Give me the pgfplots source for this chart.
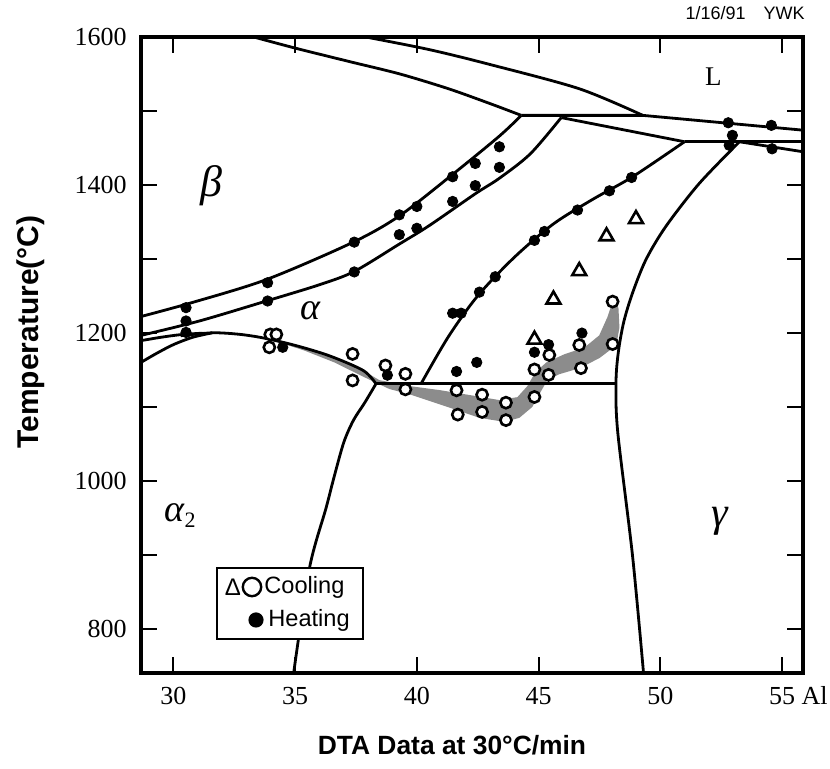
\documentclass[border=0pt]{standalone}
\usepackage{fontspec}
\setmainfont{Liberation Serif}
\newfontfamily\hel{Liberation Sans}
\newfontfamily\dvs{DejaVu Sans}
\usepackage{pgfplots}
\pgfplotsset{compat=1.18}
\begin{document}
\begin{tikzpicture}
\begin{axis}[
  width=331pt, height=318pt, scale only axis,
  xmin=28.67, xmax=55.86, ymin=740, ymax=1600,
  axis line style={line width=2pt},
  xtick={30,35,...,55},
  ytick={800,900,...,1600},
  yticklabels={800,,1000,,1200,,1400,,1600},
  xtick pos=both, ytick pos=both,
  tick align=inside,
  major tick length=8pt,
  tick style={line width=1pt, black},
  /pgf/number format/assume math mode=true,
  /pgf/number format/1000 sep={},
  tick label style={font=\fontsize{13}{14}\selectfont},
  yticklabel style={inner sep=0pt, xshift=-7pt},
  xticklabel style={inner sep=0pt, yshift=-7pt},
  pl/.style={black, no markers, line width=1.4pt},
]
% shaded DTA cooling band
\addplot[fill=black!45, draw=none] coordinates {
 (34.07,1192.5) (35.17,1181.7) (36.41,1168.3) (37.76,1149.5) (38.46,1136)
 (39.69,1128) (40.92,1122.6) (42.16,1115.9) (43.39,1109) (44.13,1113)
 (44.54,1128) (44.87,1146.8) (45.32,1160) (46.06,1171) (46.88,1180)
 (47.49,1196.5) (47.82,1220.7) (48.03,1241) (48.28,1234) (48.32,1207)
 (48.19,1183) (47.49,1165.6) (46.67,1152) (45.85,1144) (45.36,1136)
 (45.03,1117) (44.74,1099.7) (44.21,1085) (43.59,1079.6) (42.57,1085)
 (41.62,1095.7) (40.64,1106.5) (39.69,1117) (38.87,1124) (37.84,1140)
 (36.61,1160) (35.38,1176) (34.35,1187)} -- cycle;

% liquidus beta
\addplot[pl, smooth, tension=0.5] coordinates {(33.3,1600) (35.0,1585) (37.2,1567) (39.3,1550) (41.3,1530) (43.0,1510) (44.29,1494)};
% upper liquidus
\addplot[pl, smooth, tension=0.5] coordinates {(37.9,1600) (40.5,1583) (42.98,1563) (46.67,1530) (49.28,1494)};
% peritectic horizontal + gamma liquidus
\addplot[pl] coordinates {(44.29,1494) (49.28,1494) (55.86,1474)};
% alpha solidus
\addplot[pl] coordinates {(45.93,1491) (51.0,1458.3)};
% lower horizontal
\addplot[pl] coordinates {(51.0,1458.3) (55.86,1458.3)};
% gamma solidus
\addplot[pl] coordinates {(53.25,1458.3) (55.86,1444.8)};
% beta transus
\addplot[pl, smooth, tension=0.5] coordinates {(28.67,1222) (30.78,1241) (33.82,1272) (37.35,1322) (39.28,1358) (41.5,1415) (43.39,1466) (44.29,1494)};
% (beta+alpha)/alpha
\addplot[pl, smooth, tension=0.5] coordinates {(28.67,1196.5) (31.07,1216) (33.82,1243) (36,1265) (37.43,1283) (39.28,1320) (40.51,1345) (42.40,1388) (43.39,1409) (44.66,1442) (45.93,1491)};
% alpha2 dome
\addplot[pl, smooth, tension=0.5] coordinates {(30.3,1196) (31.6,1200) (32.7,1198) (33.7,1193) (35.0,1183) (36.4,1169) (37.8,1149) (38.32,1131)};
\addplot[pl, smooth, tension=0.5] coordinates {(28.67,1189.4) (29.5,1194) (30.3,1197.5) (31.2,1199.5)};
\addplot[pl, smooth, tension=0.5] coordinates {(28.67,1160) (29.3,1172) (30.0,1184) (30.8,1194) (31.6,1200)};
% alpha2/(alpha2+gamma)
\addplot[pl, smooth, tension=0.5] coordinates {(38.32,1131) (37.85,1105) (37.4,1082) (37.0,1052) (36.6,1005) (36.27,963) (35.59,882) (34.94,740)};
% eutectoid
\addplot[pl] coordinates {(38.32,1131) (48.18,1131)};
% alpha/(alpha+gamma)
\addplot[pl, smooth, tension=0.5] coordinates {(40.17,1131) (41.3,1195) (42.50,1250) (44.0,1302) (45.6,1347) (47.2,1380) (48.86,1411) (50.99,1458.3)};
% gamma boundary
\addplot[pl, smooth, tension=0.5] coordinates {(53.25,1458.3) (51.60,1402) (50.23,1344) (49.41,1299) (48.86,1254) (48.50,1215) (48.28,1175) (48.18,1134) (48.25,1066) (48.86,898) (49.31,740)};

% heating
\addplot[only marks, black, mark=*, mark size=2.6pt] coordinates {
 (30.52,1234) (30.52,1216) (30.52,1200.5) (33.87,1267.7) (33.87,1243) (34.49,1180.4)
 (37.43,1322.6) (37.43,1282.3) (39.28,1359.5) (39.28,1332.7) (40.0,1370.8) (40.0,1341.3)
 (41.47,1411) (41.47,1377.6) (42.40,1429) (42.40,1399) (43.39,1451.5) (43.39,1423.7)
 (41.47,1226.5) (41.82,1226.5) (42.57,1255) (43.22,1275.8) (44.83,1325) (45.24,1337)
 (46.60,1366) (47.91,1392) (48.82,1410) (41.63,1147.7) (42.46,1160) (44.83,1173.7)
 (45.41,1184) (46.78,1199.6) (38.79,1142.7) (52.79,1484) (54.56,1480.5) (52.96,1467)
 (52.83,1453.6) (54.59,1448.8)};
% cooling circles
\addplot[only marks, black, mark=*, mark size=2.8pt, mark options={fill=white, line width=1.3pt}] coordinates {
 (33.98,1197.8) (34.23,1197.8) (33.94,1180.4) (37.36,1171.4) (37.36,1135.6) (38.71,1155.8)
 (39.53,1144.5) (39.53,1123.5) (41.63,1122.2) (41.68,1089.4) (42.68,1116.3) (42.68,1093)
 (43.66,1105.5) (43.66,1081.9) (44.83,1150.4) (44.83,1113.2) (45.44,1170) (45.41,1143.1)
 (46.67,1183.5) (46.74,1152.2) (48.04,1242.2) (48.04,1184.8)};
% cooling triangles
\addplot[only marks, black, mark=triangle*, mark size=4pt, mark options={fill=white, line width=1.3pt}] coordinates {
 (49.0,1353.8) (47.79,1330.5) (46.67,1283.5) (45.61,1245) (44.83,1190.7)};

\node at (axis cs:31.56,1399) {\fontsize{22}{22}\selectfont\itshape β};
\node at (axis cs:35.65,1230) {\fontsize{19}{19}\selectfont\itshape α};
\node at (axis cs:30.3,953) {\fontsize{19}{19}\selectfont\itshape α\upshape$_{\hbox{\fontsize{11}{11}\selectfont 2}}$};
\node at (axis cs:52.46,945) {\fontsize{21}{21}\selectfont\itshape γ};
\node at (axis cs:52.18,1547) {\fontsize{13.5}{14}\selectfont L};

\coordinate (bbSW) at (rel axis cs:0,0);
\end{axis}
\coordinate (img) at ([shift={(-70.5pt,336.5pt)}]bbSW);
\begin{scope}[shift={(img)}, x=0.5pt, y=-0.5pt]
  \node[anchor=east, inner sep=0pt] at (805,13) {\hel\fontsize{9}{10}\selectfont 1/16/91\quad YWK};
  \node[anchor=east, inner sep=0pt] at (828,695) {\fontsize{13}{14}\selectfont Al};
  \node[rotate=90] at (31,332) {\hel\bfseries\fontsize{15}{17}\selectfont Temperature(°C)};
  \node at (452,745) {\hel\bfseries\fontsize{13.2}{15}\selectfont DTA Data at 30°C/min};
  \draw[line width=1.2pt, fill=white] (217,568) rectangle (363,639);
  \node[inner sep=0pt] at (233,587) {\hel\fontsize{12}{12}\selectfont Δ};
  \draw[line width=1.2pt] (252,587) circle (4.6pt);
  \node[anchor=west, inner sep=0pt] at (264,587) {\hel\fontsize{11.8}{13}\selectfont Cooling};
  \fill (256,620) circle (3.8pt);
  \node[anchor=west, inner sep=0pt] at (268,620) {\hel\fontsize{11.8}{13}\selectfont Heating};
\end{scope}
\pgfresetboundingbox
\path (img) rectangle ([shift={(415pt,-384.5pt)}]img);
\end{tikzpicture}
\end{document}
